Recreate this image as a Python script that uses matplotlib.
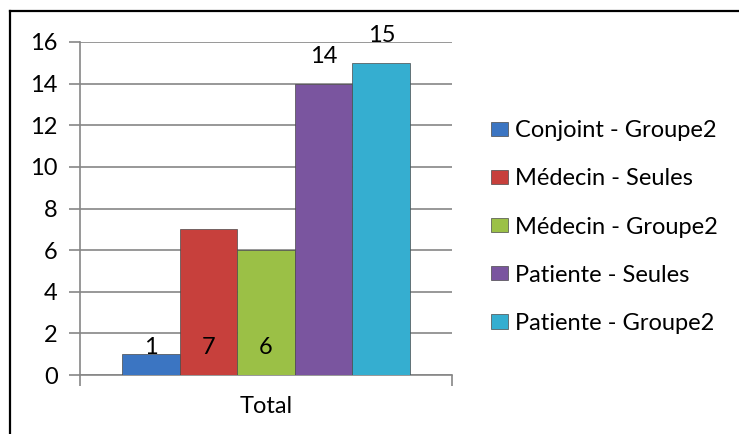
import matplotlib
matplotlib.use('Agg')
import matplotlib.pyplot as plt
from matplotlib.patches import Patch
from matplotlib.lines import Line2D

# data
series_names = ['Conjoint - Groupe2', 'Médecin - Seules', 'Médecin - Groupe2',
                'Patiente - Seules', 'Patiente - Groupe2']
series_values = [1, 7, 6, 14, 15]
series_colors = ['#3b75c2', '#c7403c', '#9bc046', '#7a559f', '#35aed0']
category = 'Total'
yticks = [0, 2, 4, 6, 8, 10, 12, 14, 16]

plt.rcParams['font.family'] = ['Lato', 'DejaVu Sans']
FS = 17

fig = plt.figure(figsize=(7.39, 4.34), dpi=100)
ax = fig.add_axes([80 / 739, 59 / 434, 372 / 739, 333 / 434])

bar_w = 0.155
n = len(series_values)
for i, (v, c) in enumerate(zip(series_values, series_colors)):
    x = (i - (n - 1) / 2) * bar_w
    ax.bar(x, v, width=bar_w, color=c, edgecolor='#4a4a4a', linewidth=0.5, zorder=3)
    # label: small bars get it near the base, tall ones above the top
    ly = v + 1.3 if v > 10 else 1.3
    ax.text(x, ly, str(v), ha='center', va='center', fontsize=FS, zorder=4)

ax.set_xlim(-0.5, 0.5)
ax.set_ylim(0, 16)
ax.set_yticks(yticks)
ax.set_yticklabels([str(t) for t in yticks], fontsize=FS)
ax.set_xticks([0])
ax.set_xticklabels([category], fontsize=FS)
ax.set_xticks([-0.5, 0.5], minor=True)
ax.tick_params(axis='x', which='major', length=0, pad=15)
ax.tick_params(axis='x', which='minor', length=8, color='#868686', width=1.2)
ax.tick_params(axis='y', length=8, color='#868686', width=1.2, pad=8)
ax.grid(axis='y', color='#868686', linewidth=1.2, zorder=0)
for s in ['top', 'right']:
    ax.spines[s].set_visible(False)
for s in ['left', 'bottom']:
    ax.spines[s].set_color('#868686')
    ax.spines[s].set_linewidth(1.2)

handles = [Patch(facecolor=c, edgecolor='#4a4a4a', linewidth=0.5) for c in series_colors]
fig.legend(handles, series_names, loc='center left', bbox_to_anchor=(491 / 739, 1 - 227 / 434),
           frameon=False, fontsize=FS, handlelength=0.72, handleheight=0.55,
           handletextpad=0.3, labelspacing=1.15, borderaxespad=0, borderpad=0)

# outer frame (only top and left visible in the reference)
fig.add_artist(Line2D([10 / 739, 1], [1 - 11 / 434, 1 - 11 / 434], color='black', linewidth=1.6,
                      transform=fig.transFigure))
fig.add_artist(Line2D([10 / 739, 10 / 739], [0, 1 - 11 / 434], color='black', linewidth=1.6,
                      transform=fig.transFigure))

fig.savefig('out.png', dpi=100)
